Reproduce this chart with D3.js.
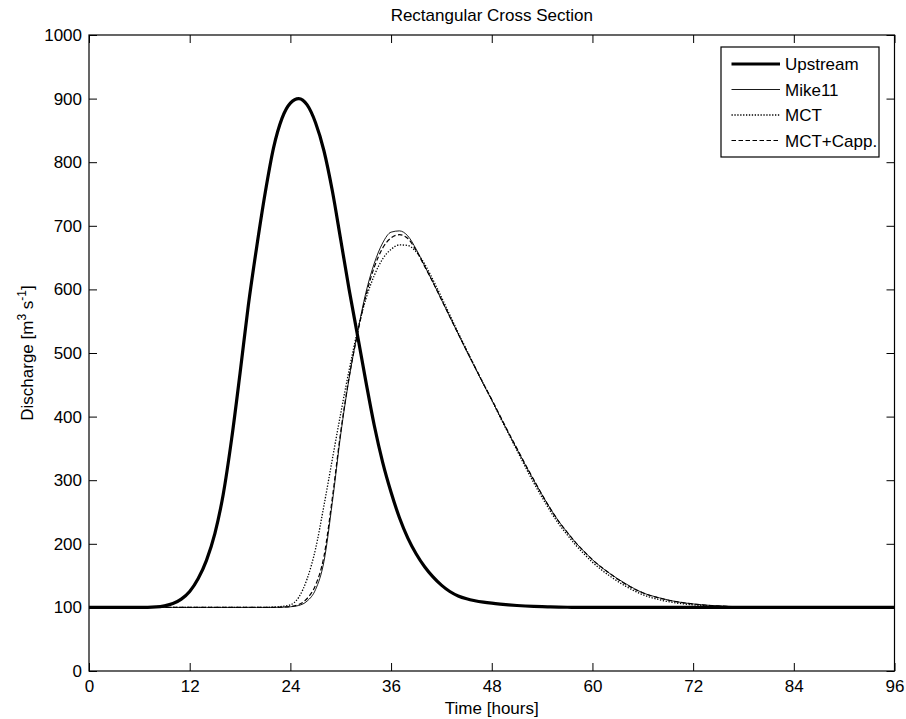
<!DOCTYPE html>
<html><head><meta charset="utf-8">
<script src="https://cdn.jsdelivr.net/npm/d3@7"></script>
<style>body{margin:0;background:#fff}svg{display:block;font-family:"Liberation Sans",Arial,sans-serif}</style>
</head><body><svg id="c" width="906" height="719"></svg>
<script>
const hours = [0,4,6,8,9,10,11,12,13,14,15,16,17,18,19,20,21,22,23,24,25,26,27,28,29,30,31,32,33,34,35,36,37,38,39,40,41,42,43,44,45,46,47,48,49,50,51,52,53,54,55,56,57,58,59,60,62,64,66,68,70,72,74,76,78,80,84,88,92,96];
const upstream = [100,100,100,100.8,102.5,106,113,125,145,174,216,278,365,468,576,668,752,823,869,893,900,890,862,818,755,678,600,528,455,386,328,281,241,209,184,164,148,135,125,118,113.5,110.5,108.3,106.6,105.2,104,103,102.2,101.6,101.1,100.7,100.4,100.2,100.1,100,100,100,100,100,100,100,100,100,100,100,100,100,100,100,100];
const mike11 = [100,100,100,100,100,100,100,100,100,100,100,100,100,100,100,100,100,100,100.3,101,103,110,128,172,265,372,460,532,595,641,673,690,692,684,663,637,611,584,557,530,503,477,451,426,400,374,349,324,300,277,255,235,218,202,188,175,154,137,123,115,109,105.5,103.2,101.7,100.8,100.3,100,100,100,100];
const mct = [100,100,100,100,100,100,100,100,100,100,100,100,100,100,100,100,100,100.5,101.5,104,116,145,192,260,333,405,473,535,585,622,648,663,670,669,659,640,615,588,560,532,505,478,452,426,399,373,347,321,296,273,251,231,214,198,184,171,150,133,120,112,107,104,102.2,101.2,100.6,100.3,100,100,100,100];
const mctCapp = [100,100,100,100,100,100,100,100,100,100,100,100,100,100,100,100,100,100,100.5,101.5,104.5,114,135,180,272,376,462,530,590,635,665,681,686,680,661,636,611,584,557,530,504,478,452,427,401,375,350,325,301,277,255,235,218,202,188,175,154,136,123,114.5,109,105.3,103,101.6,100.8,100.3,100,100,100,100];
const xTicks = [0,12,24,36,48,60,72,84,96];
const yTicks = [0,100,200,300,400,500,600,700,800,900,1000];
const seriesNames = ["Upstream","Mike11","MCT","MCT+Capp."];

const svg = d3.select("#c");
const L=89, R=894.5, T=35, B=671;
const x = d3.scaleLinear().domain([0,96]).range([L,R]);
const y = d3.scaleLinear().domain([0,1000]).range([B,T]);
const FS = 17;

svg.append("text").attr("x",(L+R)/2).attr("y",21).attr("text-anchor","middle")
  .attr("font-size",FS).text("Rectangular Cross Section");

const gx = svg.append("g").attr("transform",`translate(0,${B})`)
  .call(d3.axisBottom(x).tickValues(xTicks).tickSize(-8).tickPadding(9).tickFormat(d3.format("d")));
const gxt = svg.append("g").attr("transform",`translate(0,${T})`)
  .call(d3.axisTop(x).tickValues(xTicks).tickSize(-8).tickFormat(""));
const gy = svg.append("g").attr("transform",`translate(${L},0)`)
  .call(d3.axisLeft(y).tickValues(yTicks).tickSize(-8).tickPadding(7).tickFormat(d3.format("d")));
const gyr = svg.append("g").attr("transform",`translate(${R},0)`)
  .call(d3.axisRight(y).tickValues(yTicks).tickSize(-8).tickFormat(""));
[gx,gxt,gy,gyr].forEach(g=>{
  g.select(".domain").remove();
  g.selectAll("line").attr("stroke","#000").attr("stroke-width",1);
  g.selectAll("text").attr("font-size",FS).attr("fill","#000").attr("font-family","Liberation Sans, Arial, sans-serif");
});
gx.selectAll(".tick text").attr("dy","0.71em");
svg.append("rect").attr("x",L).attr("y",T).attr("width",R-L).attr("height",B-T)
  .attr("fill","none").attr("stroke","#000").attr("stroke-width",1.2);

svg.append("text").attr("x",(L+R)/2).attr("y",714).attr("text-anchor","middle")
  .attr("font-size",FS).text("Time [hours]");
const yl = svg.append("text").attr("transform",`translate(33,${(T+B)/2}) rotate(-90)`)
  .attr("text-anchor","middle").attr("font-size",FS);
yl.append("tspan").text("Discharge [m");
yl.append("tspan").attr("font-size",12).attr("dy",-7).text("3");
yl.append("tspan").attr("dy",7).text(" s");
yl.append("tspan").attr("font-size",12).attr("dy",-7).text("-1");
yl.append("tspan").attr("dy",7).text("]");

const styles = [
  {data:upstream, w:3.2, dash:null},
  {data:mike11, w:0.9, dash:null},
  {data:mct, w:1.3, dash:"1.3,1.6"},
  {data:mctCapp, w:1.2, dash:"4.5,2.5"}
];
svg.append("clipPath").attr("id","cp").append("rect")
  .attr("x",L).attr("y",T).attr("width",R-L).attr("height",B-T);
const line = d3.line().x(d=>x(d[0])).y(d=>y(d[1])).curve(d3.curveMonotoneX);
styles.forEach(s=>{
  svg.append("path").attr("clip-path","url(#cp)")
    .attr("d", line(hours.map((h,i)=>[h,s.data[i]])))
    .attr("fill","none").attr("stroke","#000").attr("stroke-width",s.w)
    .attr("stroke-linejoin","round")
    .attr("stroke-dasharray",s.dash);
});

const lg = svg.append("g");
lg.append("rect").attr("x",721).attr("y",47).attr("width",158).attr("height",110)
  .attr("fill","#fff").attr("stroke","#000").attr("stroke-width",1.2);
const rowY = [64,89.5,115,140.5];
seriesNames.forEach((n,i)=>{
  lg.append("line").attr("x1",731.5).attr("x2",780).attr("y1",rowY[i]).attr("y2",rowY[i])
    .attr("stroke","#000").attr("stroke-width",styles[i].w).attr("stroke-dasharray",styles[i].dash);
  lg.append("text").attr("x",785).attr("y",rowY[i]+6).attr("font-size",FS).text(n);
});
</script></body></html>
